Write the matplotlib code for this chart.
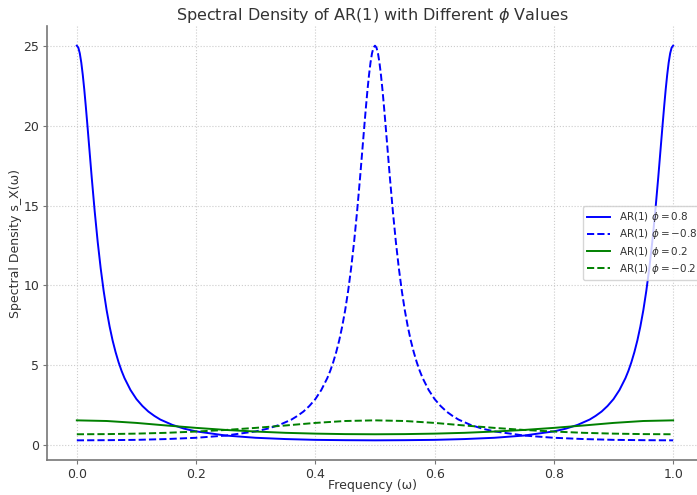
import numpy as np
import matplotlib.pyplot as plt

# values
freq_pos = [0, .0025, .005, .0075, .01, .0125, .015, .0175, .02, .025, .03, .035, .04, .045,
            .05, .055, .06, .065, .07, .075, .08, .09, .10, .11, .12, .13, .14, .16, .18, .20,
            .25, .30, .35, .40, .45, .50, .55, .60, .65, .70, .75, .80, .82, .84, .86, .87,
            .88, .89, .90, .91, .92, .925, .93, .935, .94, .945, .95, .955, .96, .965, .97,
            .975, .98, .9825, .985, .9875, .99, .9925, .995, .9975, 1.0]
dens_pos08 = [25.0, 24.88, 24.52, 23.94, 23.17, 22.26, 21.23, 20.14, 19.01, 16.75, 14.63,
              12.73, 11.08, 9.66, 8.45, 7.43, 6.56, 5.83, 5.20, 4.66, 4.20, 3.46, 2.89, 2.46,
              2.11, 1.84, 1.61, 1.28, 1.04, 0.87, 0.61, 0.47, 0.39, 0.34, 0.32, 0.31, 0.32,
              0.34, 0.39, 0.47, 0.61, 0.87, 1.04, 1.28, 1.61, 1.84, 2.11, 2.46, 2.89, 3.46,
              4.20, 4.66, 5.20, 5.83, 6.56, 7.43, 8.45, 9.66, 11.08, 12.73, 14.63, 16.75,
              19.01, 20.14, 21.23, 22.26, 23.17, 23.94, 24.52, 24.88, 25.0]

freq_neg = [0, .05, .10, .15, .20, .25, .30, .32, .34, .36, .37, .38, .39, .40, .41, .42,
            .425, .43, .435, .44, .445, .45, .455, .46, .465, .47, .475, .48, .4825, .485,
            .4875, .49, .4925, .495, .4975, .50, .5025, .505, .5075, .51, .5125, .515, .5175,
            .52, .525, .53, .535, .54, .545, .55, .555, .56, .565, .57, .575, .58, .59, .60,
            .61, .62, .63, .64, .66, .68, .70, .75, .80, .85, .90, .95, 1.0]
dens_neg08 = [0.31, 0.32, 0.34, 0.39, 0.47, 0.61, 0.87, 1.04, 1.28, 1.61, 1.84, 2.11, 2.46,
              2.89, 3.46, 4.20, 4.66, 5.20, 5.83, 6.56, 7.43, 8.45, 9.66, 11.08, 12.73, 14.63,
              16.75, 19.01, 20.14, 21.23, 22.26, 23.17, 23.94, 24.52, 24.88, 25.0, 24.88,
              24.52, 23.94, 23.17, 22.26, 21.23, 20.14, 19.01, 16.75, 14.63, 12.73, 11.08,
              9.66, 8.45, 7.43, 6.56, 5.83, 5.20, 4.66, 4.20, 3.46, 2.89, 2.46, 2.11, 1.84,
              1.61, 1.28, 1.04, 0.87, 0.61, 0.47, 0.39, 0.34, 0.32, 0.31]

freq_small = [0, .05, .10, .15, .20, .25, .30, .35, .40, .45, .50, .55, .60, .65, .70, .75,
              .80, .85, .90, .95, 1.0]
dens_pos02 = [1.56, 1.52, 1.40, 1.24, 1.09, 0.96, 0.86, 0.78, 0.73, 0.70, 0.69, 0.70, 0.73,
              0.78, 0.86, 0.96, 1.09, 1.24, 1.40, 1.52, 1.56]
dens_neg02 = [0.69, 0.70, 0.73, 0.78, 0.86, 0.96, 1.09, 1.24, 1.40, 1.52, 1.56, 1.52, 1.40,
              1.24, 1.09, 0.96, 0.86, 0.78, 0.73, 0.70, 0.69]

txt = '#333333'
fig = plt.figure(figsize=(6.97, 4.95), dpi=100)
ax = fig.add_axes([47/697, 35/495, 650/697, 434/495])

ax.plot(freq_pos, dens_pos08, color='blue', lw=1.4, label=r'AR(1) $\phi = 0.8$')
ax.plot(freq_neg, dens_neg08, color='blue', lw=1.4, ls='--', label=r'AR(1) $\phi = -0.8$')
ax.plot(freq_small, dens_pos02, color='green', lw=1.4, label=r'AR(1) $\phi = 0.2$')
ax.plot(freq_small, dens_neg02, color='green', lw=1.4, ls='--', label=r'AR(1) $\phi = -0.2$')

ax.set_xlim(-0.05, 1.04)
ax.set_ylim(-0.92, 26.23)
ax.set_xticks([0, 0.2, 0.4, 0.6, 0.8, 1.0])
ax.set_yticks([0, 5, 10, 15, 20, 25])
ax.grid(True, ls=':', color='#cccccc', lw=0.8)
for s in ['top', 'right']:
    ax.spines[s].set_visible(False)
for s in ['left', 'bottom']:
    ax.spines[s].set_color('#777777')
    ax.spines[s].set_linewidth(1.2)
ax.tick_params(colors=txt, labelsize=9, length=3, pad=2.5, color='#777777')

ax.set_title(r'Spectral Density of AR(1) with Different $\phi$ Values', fontsize=11.5,
             color=txt, pad=4)
ax.set_xlabel('Frequency (ω)', fontsize=9, color=txt, labelpad=-1)
ax.set_ylabel('Spectral Density s_X(ω)', fontsize=9, color=txt, labelpad=1)
leg = ax.legend(loc='center right', bbox_to_anchor=(1.006, 0.5), borderaxespad=0,
                fontsize=7.5, labelspacing=0.3, handlelength=2.2,
                framealpha=0.8, edgecolor='#cccccc')
for t in leg.get_texts():
    t.set_color(txt)

fig.savefig('out.png', dpi=100)
